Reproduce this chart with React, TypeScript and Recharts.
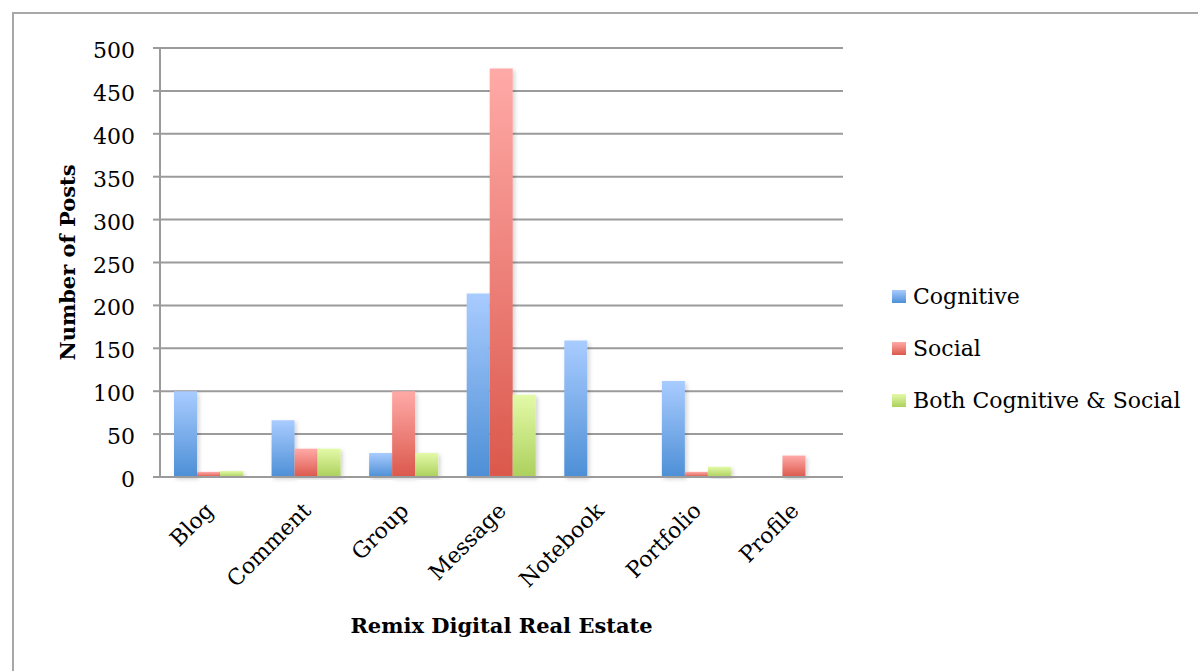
import React from "react";
import { Bar, BarChart, CartesianGrid, XAxis, YAxis, Label } from "recharts";

const categories = ["Blog", "Comment", "Group", "Message", "Notebook", "Portfolio", "Profile"];
const cognitive = [100, 66, 28, 214, 159, 112, 0];
const social = [6, 33, 100, 476, 0, 6, 25];
const both = [7, 33, 28, 96, 0, 12, 0];
const yTicks = [0, 50, 100, 150, 200, 250, 300, 350, 400, 450, 500];

const seriesInfo = [
  { key: "cognitive", name: "Cognitive", top: "#a9ccff", bottom: "#4d8fd6" },
  { key: "social", name: "Social", top: "#ffaaa7", bottom: "#db584c" },
  { key: "both", name: "Both Cognitive & Social", top: "#e3faa8", bottom: "#acd05c" },
];

const data = categories.map((name, i) => ({
  name,
  cognitive: cognitive[i],
  social: social[i],
  both: both[i],
}));

const FONT = "'DejaVu Serif', serif";
const GRID = "#9b9b9b";

function CategoryTick(props: any) {
  const { x, y, payload } = props;
  return (
    <text
      transform={`translate(${x + 6},${y + 27}) rotate(-45)`}
      textAnchor="end"
      fontFamily={FONT}
      fontSize={22}
      fill="#000"
    >
      {payload.value}
    </text>
  );
}

function ValueTick(props: any) {
  const { x, y, payload } = props;
  return (
    <text x={x} y={y + 10} textAnchor="end" fontFamily={FONT} fontSize={22} fill="#000">
      {payload.value}
    </text>
  );
}

function LegendBox() {
  return (
    <div style={{ fontFamily: FONT, fontSize: 22, color: "#000" }}>
      {seriesInfo.map((s) => (
        <div key={s.key} style={{ display: "flex", alignItems: "center", height: 52 }}>
          <span
            style={{
              display: "inline-block",
              width: 14,
              height: 13,
              marginRight: 7,
              background: `linear-gradient(${s.top}, ${s.bottom})`,
            }}
          />
          <span>{s.name}</span>
        </div>
      ))}
    </div>
  );
}

export default function App() {
  return (
    <div
      style={{
        position: "fixed",
        left: 0,
        top: 0,
        width: 1198,
        height: 671,
        overflow: "hidden",
        background: "#fff",
      }}
    >
      <div
        style={{
          position: "absolute",
          left: 12,
          top: 12,
          width: 1220,
          height: 700,
          border: "2px solid #a8a8a8",
        }}
      />
      <div style={{ position: "absolute", left: 0, top: 0 }}>
        <BarChart
          width={1198}
          height={671}
          data={data}
          margin={{ top: 48, right: 355, bottom: 0, left: 0 }}
          barGap={0}
          barSize={23}
        >
          <defs>
            {seriesInfo.map((s) => (
              <linearGradient key={s.key} id={`grad-${s.key}`} x1="0" y1="0" x2="0" y2="1">
                <stop offset="0%" stopColor={s.top} />
                <stop offset="100%" stopColor={s.bottom} />
              </linearGradient>
            ))}
            <filter id="barShadow" x="-20%" y="-5%" width="150%" height="115%">
              <feDropShadow dx="2" dy="2" stdDeviation="2" floodColor="#000" floodOpacity="0.18" />
            </filter>
          </defs>
          <CartesianGrid vertical={false} stroke={GRID} strokeWidth={2} />
          <XAxis
            dataKey="name"
            height={194}
            tickLine={false}
            axisLine={{ stroke: GRID, strokeWidth: 2 }}
            tick={<CategoryTick />}
            interval={0}
          >
            <Label
              value="Remix Digital Real Estate"
              position="insideBottom"
              offset={38}
              style={{ fontFamily: FONT, fontSize: 21, fontWeight: "bold", fill: "#000" }}
            />
          </XAxis>
          <YAxis
            domain={[0, 500]}
            ticks={yTicks}
            width={160}
            tickSize={7}
            tickMargin={18}
            tickLine={{ stroke: GRID, strokeWidth: 2 }}
            axisLine={{ stroke: GRID, strokeWidth: 2 }}
            tick={<ValueTick />}
          >
            <Label
              value="Number of Posts"
              angle={-90}
              position="insideLeft"
              offset={68}
              style={{ fontFamily: FONT, fontSize: 21, fontWeight: "bold", fill: "#000", textAnchor: "middle" }}
            />
          </YAxis>
          {seriesInfo.map((s) => (
            <Bar
              key={s.key}
              dataKey={s.key}
              name={s.name}
              fill={`url(#grad-${s.key})`}
              filter="url(#barShadow)"
              isAnimationActive={false}
            />
          ))}
        </BarChart>
      </div>
      <div style={{ position: "absolute", left: 892, top: 270 }}>
        <LegendBox />
      </div>
    </div>
  );
}
